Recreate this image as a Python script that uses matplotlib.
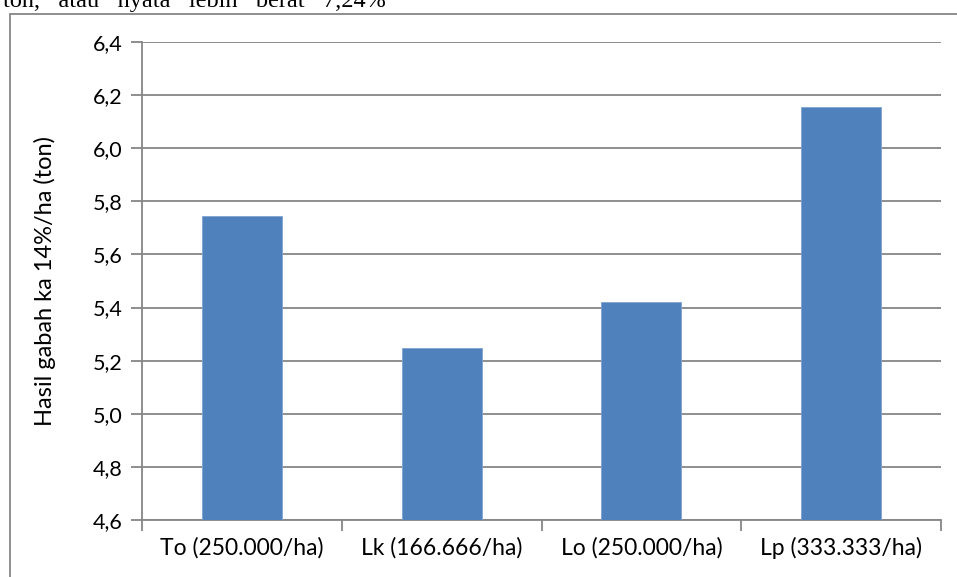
import matplotlib.pyplot as plt
from matplotlib.patches import Rectangle

# data
categories = ["To (250.000/ha)", "Lk (166.666/ha)", "Lo (250.000/ha)", "Lp (333.333/ha)"]
hasil = [5.745, 5.248, 5.421, 6.155]
yticks = [4.6, 4.8, 5.0, 5.2, 5.4, 5.6, 5.8, 6.0, 6.2, 6.4]
ytick_labels = ["4,6", "4,8", "5,0", "5,2", "5,4", "5,6", "5,8", "6,0", "6,2", "6,4"]

plt.rcParams["font.family"] = ["Lato", "DejaVu Sans"]
grid_col = "#868686"
W, H = 957, 577

fig = plt.figure(figsize=(W / 100, H / 100), dpi=100)
ax = fig.add_axes([142 / W, (H - 520) / H, (941 - 142) / W, (520 - 42) / H])

x = range(len(categories))
ax.bar(x, hasil, width=0.4, color="#4F81BD", edgecolor="#7FA3D0", linewidth=0.6,
       zorder=3)

ax.set_xlim(-0.5, len(categories) - 0.5)
ax.set_ylim(4.6, 6.4)
ax.set_yticks(yticks)
ax.set_yticklabels(ytick_labels)
ax.set_xticks(list(x))
ax.set_xticklabels(categories)
ax.set_xticks([i - 0.5 for i in range(len(categories) + 1)], minor=True)
ax.tick_params(axis="x", which="major", length=0, pad=12, labelsize=16.5)
ax.tick_params(axis="x", which="minor", length=8, width=1.3, color=grid_col)
ax.tick_params(axis="y", length=8, width=1.3, color=grid_col, pad=6, labelsize=15.5)

ax.grid(axis="y", color=grid_col, linewidth=1.3, zorder=0)
for s in ["top", "right"]:
    ax.spines[s].set_visible(False)
for s in ["left", "bottom"]:
    ax.spines[s].set_color(grid_col)
    ax.spines[s].set_linewidth(1.3)

ax.set_ylabel("Hasil gabah ka 14%/ha (ton)", fontsize=17)
ax.yaxis.set_label_coords(-(142 - 56) / (941 - 142), 0.5)

# chart frame (cut off on right and bottom)
frame = Rectangle((9.5 / W, -0.1), 1.2, (H - 13.5) / H + 0.1, transform=fig.transFigure,
                  fill=False, edgecolor=grid_col, linewidth=1.3, clip_on=False)
fig.patches.append(frame)

# surrounding document text, clipped at the top
fig.text(3 / W, 1 - 7.5 / H, "ton,   atau   nyata   lebih   berat   7,24%",
         family=["Liberation Serif"], fontsize=17.5, va="baseline")

fig.savefig("out.png", dpi=100)
